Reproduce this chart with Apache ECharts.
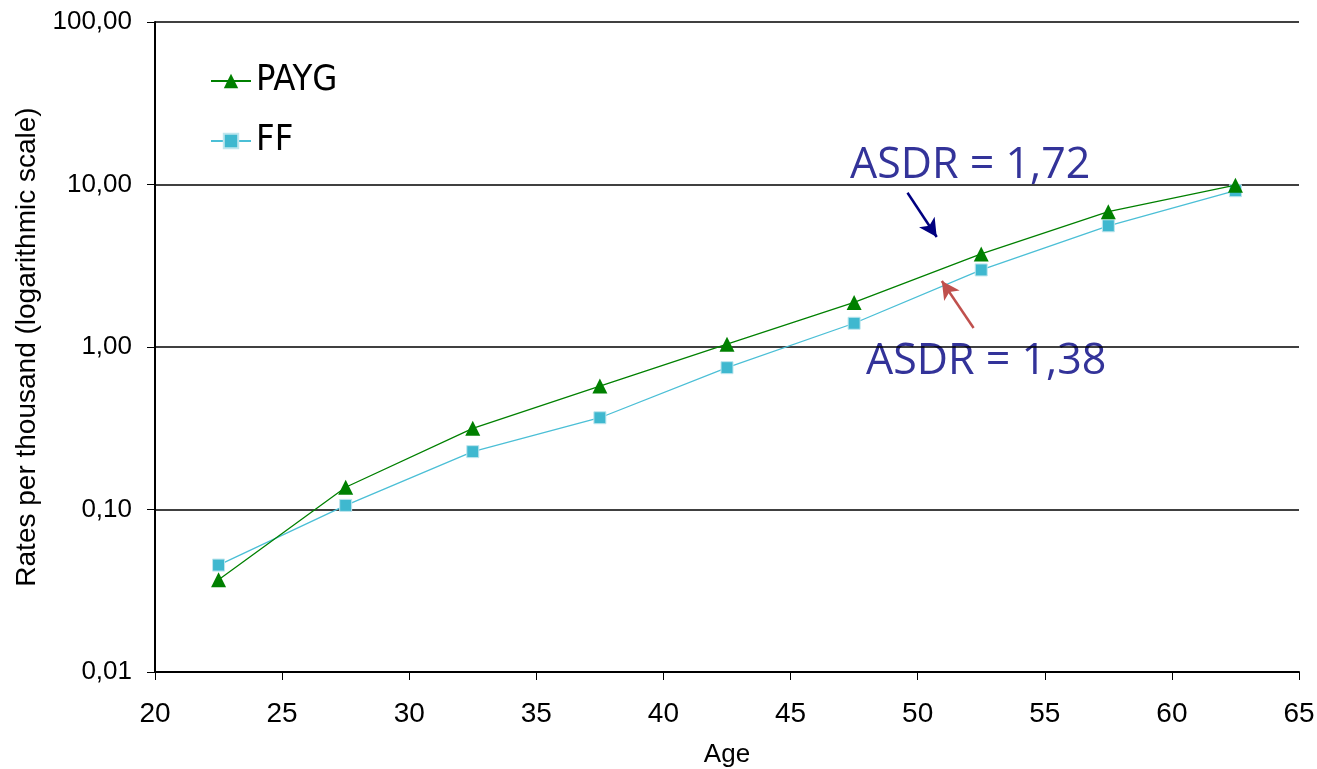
<!DOCTYPE html>
<html>
<head>
<meta charset="utf-8">
<script src="https://cdn.jsdelivr.net/npm/echarts@6/dist/echarts.min.js"></script>
<style>
  html, body { margin: 0; padding: 0; background: #fff; }
  #chart { width: 1317px; height: 769px; }
</style>
</head>
<body>
<div id="chart"></div>
<script>
// age group mid points
const ages = [22.5, 27.5, 32.5, 37.5, 42.5, 47.5, 52.5, 57.5, 62.5]
// rates per thousand
const payg = [0.037, 0.137, 0.316, 0.575, 1.04, 1.88, 3.74, 6.8, 9.9]
const ff = [0.0455, 0.106, 0.227, 0.367, 0.746, 1.4, 2.98, 5.57, 9.16]
// annotation arrows, [age, rate] start -> end
const arrowPayg = [[49.6, 8.9], [50.75, 4.75]]
const arrowFf = [[52.2, 1.31], [50.95, 2.55]]
const asdrLabels = ['ASDR = 1,72', 'ASDR = 1,38']

const arial = '"Liberation Sans", Arial, sans-serif'
const narrow = '"DejaVu Sans Condensed", "Liberation Sans Narrow", "Liberation Sans", sans-serif'
const myChart = echarts.init(document.getElementById('chart'))

const option = {
  animation: false,
  backgroundColor: '#ffffff',
  grid: { left: 155, right: 18, top: 22, bottom: 97, outerBoundsMode: 'none' },
  legend: {
    orient: 'vertical',
    left: 210,
    top: 62,
    padding: 0,
    itemWidth: 40,
    itemHeight: 18,
    itemGap: 22,
    textStyle: { fontFamily: narrow, fontSize: 36, color: '#000', lineHeight: 38 },
    data: ['PAYG', 'FF']
  },
  xAxis: {
    type: 'value',
    min: 20,
    max: 65,
    interval: 5,
    name: 'Age',
    nameLocation: 'middle',
    nameGap: 70,
    nameTextStyle: { fontFamily: arial, fontSize: 26, color: '#000' },
    axisLine: { onZero: false, lineStyle: { color: '#000', width: 2 } },
    axisTick: { show: true, length: 8, lineStyle: { color: '#000', width: 1 } },
    axisLabel: { fontFamily: arial, fontSize: 28, color: '#000', margin: 28 },
    splitLine: { show: false }
  },
  yAxis: {
    type: 'log',
    logBase: 10,
    min: 0.01,
    max: 100,
    name: 'Rates per thousand (logarithmic scale)',
    nameLocation: 'middle',
    nameGap: 113,
    nameTextStyle: { fontFamily: arial, fontSize: 28, color: '#000' },
    axisLine: { show: true, lineStyle: { color: '#000', width: 2 } },
    axisTick: { show: true, length: 8, lineStyle: { color: '#000', width: 1 } },
    axisLabel: {
      fontFamily: arial,
      fontSize: 26,
      color: '#000',
      margin: 23,
      formatter: (value) => Number(value).toFixed(2).replace('.', ',')
    },
    splitLine: { show: true, lineStyle: { color: '#000', width: 1.6 } }
  },
  series: [
    {
      name: 'PAYG',
      type: 'line',
      data: ages.map((a, i) => [a, payg[i]]),
      symbol: 'triangle',
      symbolSize: 15,
      itemStyle: { color: '#008000' },
      lineStyle: { color: '#008000', width: 1.3 },
      z: 3,
      markLine: {
        silent: true,
        symbol: ['none', 'arrow'],
        symbolSize: [14, 18],
        label: { show: false },
        data: [
          [{ coord: arrowPayg[0], lineStyle: { color: '#000080', width: 2.5, type: 'solid' } }, { coord: arrowPayg[1] }],
          [{ coord: arrowFf[0], lineStyle: { color: '#c0504d', width: 2.5, type: 'solid' } }, { coord: arrowFf[1] }]
        ]
      }
    },
    {
      name: 'FF',
      type: 'line',
      data: ages.map((a, i) => [a, ff[i]]),
      symbol: 'rect',
      symbolSize: 12,
      itemStyle: { color: '#3fb8cf', borderColor: '#bfe6ee', borderWidth: 1 },
      lineStyle: { color: '#4bbfd6', width: 1.3 },
      z: 2
    }
  ],
  graphic: [
    {
      type: 'text',
      left: 850,
      top: 144,
      style: { text: asdrLabels[0], fill: '#333399', font: '43px "Open Sans", sans-serif' }
    },
    {
      type: 'text',
      left: 866,
      top: 340,
      style: { text: asdrLabels[1], fill: '#333399', font: '43px "Open Sans", sans-serif' }
    }
  ]
}

myChart.setOption(option)
window.addEventListener('resize', () => myChart.resize())
</script>
</body>
</html>
